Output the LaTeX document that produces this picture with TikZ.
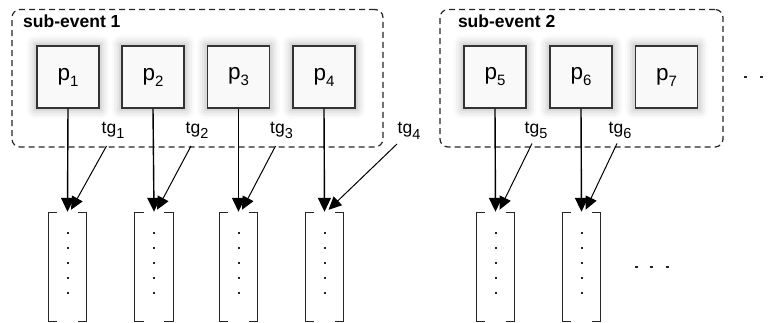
\documentclass[tikz,border=0pt]{standalone}
\usepackage{fontspec}
\setmainfont{Liberation Sans}
\usetikzlibrary{arrows.meta,shadows.blur,calc}

% subscripted labels set in text mode so they keep the sans font
\newcommand\procname[1]{p\raisebox{-6pt}{\fontsize{15}{16}\selectfont #1}}
\newcommand\tgname[1]{tg\raisebox{-5.5pt}{\fontsize{14.5}{15}\selectfont #1}}

\begin{document}
\begin{tikzpicture}[x=1pt,y=-1pt,
  group/.style={draw=black!85, line width=1.2pt, dash pattern=on 6pt off 4pt,
    rounded corners=8pt, minimum height=137.5pt, inner sep=0pt},
  grouptitle/.style={anchor=base west, inner sep=0pt,
    font=\fontsize{17.5}{20}\selectfont\bfseries},
  proc/.style={draw=black!80, line width=1.3pt, fill=gray!5, minimum size=62pt,
    inner sep=0pt, font=\fontsize{22.5}{24}\selectfont,
    blur shadow={shadow xshift=0pt, shadow yshift=0pt,
      shadow blur radius=8pt, shadow opacity=30, shadow scale=1.06}},
  column/.style={minimum width=38pt, minimum height=108pt, inner sep=0pt},
  bracket/.style={line width=1.3pt, black!85},
  tglabel/.style={anchor=base west, inner sep=0pt, font=\fontsize{17.5}{19}\selectfont},
  flow/.style={line width=1.4pt, -{Triangle[length=14pt,width=13pt]}},
  tagflow/.style={line width=1pt, -{Triangle[length=13pt,width=12pt]}},
]
\useasboundingbox (0,0) rectangle (771,323);

% sub-event groups
\node[group, minimum width=371pt] (se1) at (197.5,78.25) {};
\node[group, minimum width=283pt] (se2) at (581.5,78.25) {};
\node[grouptitle] (se1t) at (23,27.7) {sub-event 1};
\node[grouptitle] (se2t) at (457.8,27.7) {sub-event 2};

% processes
\node[proc] (p1) at (68,77) {\procname{1}};
\node[proc] (p2) at (153,77) {\procname{2}};
\node[proc] (p3) at (238.5,77) {\procname{3}};
\node[proc] (p4) at (324,77) {\procname{4}};
\node[proc] (p5) at (495,77) {\procname{5}};
\node[proc] (p6) at (581,77) {\procname{6}};
\node[proc] (p7) at (666.5,77) {\procname{7}};

% output columns
\node[column] (c1) at (67.5,267) {};
\node[column] (c2) at (154,267) {};
\node[column] (c3) at (238.5,267) {};
\node[column] (c4) at (324.5,267) {};
\node[column] (c5) at (495.5,267) {};
\node[column] (c6) at (581.5,267) {};
\foreach \c in {c1,c2,c3,c4,c5,c6} {
  \draw[bracket] ($(\c.north west)+(9,0)$) -- (\c.north west)
    -- (\c.south west) -- ($(\c.south west)+(9,0)$);
  \draw[bracket] ($(\c.north east)+(-9,0)$) -- (\c.north east)
    -- (\c.south east) -- ($(\c.south east)+(-9,0)$);
  \foreach \k in {0,...,4}
    \fill[black!85] ($(\c.north)+(-1,19+15*\k)$) rectangle ++(2,2);
}

% tag labels
\node[tglabel] (tg1) at (101.5,133.5) {\tgname{1}};
\node[tglabel] (tg2) at (185.5,133.5) {\tgname{2}};
\node[tglabel] (tg3) at (270,133.5) {\tgname{3}};
\node[tglabel] (tg4) at (397.5,134) {\tgname{4}};
\node[tglabel] (tg5) at (524.5,133.5) {\tgname{5}};
\node[tglabel] (tg6) at (608.5,133.5) {\tgname{6}};

% process outputs
\foreach \p/\c in {p1/c1,p2/c2,p3/c3,p4/c4,p5/c5,p6/c6}
  \draw[flow] (\p.south) -- ($(\c.north)+(0,-1)$);

% tagged outputs
\draw[tagflow] ($(tg1.base west)+(5,12.5)$) -- ($(c1.north)+(3.5,-3)$);
\draw[tagflow] ($(tg2.base west)+(5.5,12.5)$) -- ($(c2.north)+(3,-3)$);
\draw[tagflow] ($(tg3.base west)+(5.5,12.5)$) -- ($(c3.north)+(3.5,-3)$);
\draw[tagflow] ($(tg4.base west)+(-0.5,10)$) -- ($(c4.north)+(4,-3)$);
\draw[tagflow] ($(tg5.base west)+(7.5,10)$) -- ($(c5.north)+(4,-3)$);
\draw[tagflow] ($(tg6.base west)+(8.5,10)$) -- ($(c6.north)+(4,-3)$);

% continuation marks
\coordinate (more1) at (745.7,77.3);
\coordinate (more2) at (636,267.3);
\foreach \k in {0,1,2}
  \fill[black!85] ($(more1)+(15.6*\k-1.5,-1)$) rectangle ++(3,2);
\foreach \k in {0,1,2}
  \fill[black!85] ($(more2)+(15.6*\k-1.5,-1)$) rectangle ++(3,2);
\end{tikzpicture}
\end{document}
